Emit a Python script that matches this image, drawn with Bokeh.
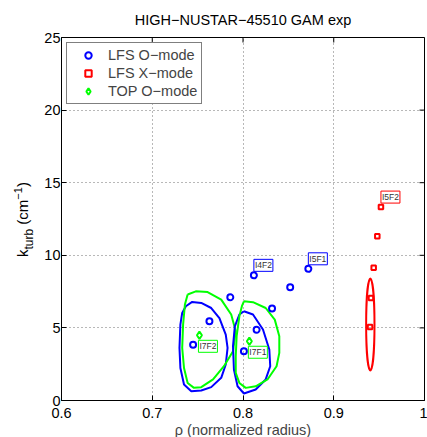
import math
from bokeh.plotting import figure
from bokeh.models import FixedTicker, Legend, LegendItem, Range1d, ColumnDataSource, Div
from bokeh.layouts import row
from bokeh.embed import file_html
from bokeh.resources import INLINE
from bokeh.core.properties import value

# ---------------- data ----------------
title_text = "HIGH\u2212NUSTAR\u221245510 GAM exp"
x_label = "\u03c1 (normalized radius)"
x_ticks = [0.6, 0.7, 0.8, 0.9, 1.0]
y_ticks = [0, 5, 10, 15, 20, 25]

lfs_o_rho = [0.745, 0.763, 0.786, 0.801, 0.815, 0.832, 0.812, 0.852, 0.872]
lfs_o_k = [3.84, 5.46, 7.11, 3.39, 4.87, 6.34, 8.62, 7.80, 9.07]

lfs_x_rho = [0.940, 0.941, 0.944, 0.948, 0.952]
lfs_x_k = [5.07, 7.06, 9.15, 11.31, 13.32]

top_o_rho = [0.752, 0.807]
top_o_k = [4.49, 4.08]

# uncertainty contours
blue_c1_rho = [0.737, 0.744, 0.754, 0.765, 0.774, 0.781, 0.783, 0.781, 0.776, 0.765, 0.754, 0.743, 0.735, 0.731, 0.730, 0.731, 0.733]
blue_c1_k = [6.49, 6.79, 6.72, 6.37, 5.68, 4.54, 3.62, 2.48, 1.56, 0.92, 0.69, 0.64, 1.10, 2.24, 3.62, 5.23, 6.03]
green_c1_rho = [0.739, 0.748, 0.761, 0.776, 0.787, 0.792, 0.789, 0.779, 0.767, 0.754, 0.746, 0.739, 0.735, 0.733, 0.734, 0.736]
green_c1_k = [7.30, 7.52, 7.47, 6.95, 5.92, 4.77, 3.39, 2.36, 1.45, 0.92, 0.87, 1.21, 2.24, 3.62, 5.23, 6.61]
blue_c2_rho = [0.801, 0.811, 0.822, 0.829, 0.830, 0.825, 0.814, 0.801, 0.794, 0.790, 0.789, 0.791, 0.796]
blue_c2_k = [6.15, 5.92, 4.89, 3.51, 2.36, 1.45, 0.76, 0.48, 0.98, 2.13, 3.74, 5.11, 5.92]
green_c2_rho = [0.801, 0.811, 0.825, 0.835, 0.840, 0.840, 0.837, 0.827, 0.814, 0.803, 0.796, 0.792, 0.792, 0.793, 0.796, 0.799]
green_c2_k = [6.83, 6.77, 6.37, 5.57, 4.43, 3.28, 2.36, 1.45, 0.98, 0.87, 1.21, 1.90, 3.05, 4.43, 5.80, 6.54]
red_ell_rho = [0.9403]
red_ell_k = [5.23]
red_ell_w = [0.0092]
red_ell_h = [6.33]

# point tags
tag_above_text = ["I4F2", "I5F1", "I5F2"]
tag_above_rho = [lfs_o_rho[6], lfs_o_rho[8], lfs_x_rho[4]]
tag_above_k = [lfs_o_k[6], lfs_o_k[8], lfs_x_k[4]]
tag_above_color = ["#0000ff", "#0000ff", "#ff0000"]
tag_below_text = ["I7F2", "I7F1"]
tag_below_rho = top_o_rho
tag_below_k = top_o_k
tag_below_color = ["#00ff00", "#00ff00"]

# ---------------- figure ----------------
FONT = "Liberation Sans"
DIV_W = 34
FW, FH = 363, 363
BL, BR, BT, BB = 61 - DIV_W, 3, 36, 38
TOTAL_H = BT + FH + BB

p = figure(frame_width=FW, frame_height=FH, min_border_left=BL, min_border_right=BR,
           min_border_top=BT, min_border_bottom=BB,
           x_range=Range1d(0.6, 1.0), y_range=Range1d(0, 25),
           output_backend="svg", toolbar_location=None, tools="")
p.background_fill_color = "white"
p.border_fill_color = "white"
p.outline_line_color = "black"
p.outline_line_width = 1
p.outline_line_alpha = 1

p.title.text = title_text
p.title.align = "center"
p.title.text_font = FONT
p.title.text_font_size = "14.5px"
p.title.text_font_style = "normal"
p.title.text_color = "black"
p.title.standoff = 19

xa = p.below[0]
ya = p.left[0]
for ax in (xa, ya):
    ax.major_label_text_font = FONT
    ax.major_label_text_font_size = "14.5px"
    ax.major_label_text_color = "black"
    ax.axis_line_color = "black"
    ax.major_tick_in = 5
    ax.major_tick_out = 0
    ax.minor_tick_in = 0
    ax.minor_tick_out = 0
    ax.major_tick_line_color = "black"
xa.ticker = FixedTicker(ticks=x_ticks)
ya.ticker = FixedTicker(ticks=y_ticks)
xa.major_label_overrides = {1: "1"}
xa.major_label_standoff = 7
ya.major_label_standoff = 1
xa.axis_label = x_label
xa.axis_label_text_font = FONT
xa.axis_label_text_font_size = "14.5px"
xa.axis_label_text_font_style = "normal"
xa.axis_label_standoff = 1

for g in (p.xgrid[0], p.ygrid[0]):
    g.grid_line_color = "#707070"
    g.grid_line_dash = "1 3"
    g.grid_line_width = 1
p.xgrid[0].ticker = FixedTicker(ticks=x_ticks)
p.ygrid[0].ticker = FixedTicker(ticks=y_ticks)

# mirrored inward ticks on the top and right edges of the box
p.ray(x=x_ticks, y=[25] * len(x_ticks), length=5, length_units="screen",
      angle=-math.pi / 2, line_color="black", line_width=1)
p.ray(x=[1.0] * len(y_ticks), y=y_ticks, length=5, length_units="screen",
      angle=math.pi, line_color="black", line_width=1)

# contours
def closed(a):
    return list(a) + [a[0]]

p.line(closed(blue_c1_rho), closed(blue_c1_k), line_color="#0000ff", line_width=2)
p.line(closed(green_c1_rho), closed(green_c1_k), line_color="#00ff00", line_width=2)
p.line(closed(blue_c2_rho), closed(blue_c2_k), line_color="#0000ff", line_width=2)
p.line(closed(green_c2_rho), closed(green_c2_k), line_color="#00ff00", line_width=2)
p.ellipse(x=red_ell_rho, y=red_ell_k, width=red_ell_w, height=red_ell_h,
          fill_color=None, line_color="#ff0000", line_width=2)

r_o = p.scatter(lfs_o_rho, lfs_o_k, marker="circle", size=6, fill_color=None,
                line_color="#0000ff", line_width=2)
r_x = p.scatter(lfs_x_rho, lfs_x_k, marker="square", size=4.5, fill_color=None,
                line_color="#ff0000", line_width=2)
r_t = p.scatter(top_o_rho, top_o_k, marker="diamond", size=7.5, fill_color=None,
                line_color="#00ff00", line_width=2)

# tags
src_a = ColumnDataSource(dict(x=tag_above_rho, y=tag_above_k, t=tag_above_text, c=tag_above_color))
p.text(x="x", y="y", text="t", source=src_a, x_offset=0, y_offset=-4,
       text_align="left", text_baseline="bottom", text_font=value(FONT),
       text_font_size="8.5px", text_color="#333333",
       background_fill_color="white", border_line_color="c", border_line_width=1, padding=1)
src_b = ColumnDataSource(dict(x=tag_below_rho, y=tag_below_k, t=tag_below_text, c=tag_below_color))
p.text(x="x", y="y", text="t", source=src_b, x_offset=-1, y_offset=5,
       text_align="left", text_baseline="top", text_font=value(FONT),
       text_font_size="8.5px", text_color="#333333",
       background_fill_color="white", border_line_color="c", border_line_width=1, padding=1)

# legend
legend = Legend(items=[LegendItem(label="LFS O\u2212mode", renderers=[r_o]),
                       LegendItem(label="LFS X\u2212mode", renderers=[r_x]),
                       LegendItem(label="TOP O\u2212mode", renderers=[r_t])],
                location="top_left")
legend.margin = 5
legend.padding = 4
legend.spacing = 2
legend.glyph_width = 34
legend.glyph_height = 16
legend.label_height = 16
legend.label_standoff = 3
legend.label_text_font = FONT
legend.label_text_font_size = "14.5px"
legend.border_line_color = "black"
legend.border_line_width = 1
legend.background_fill_alpha = 1
p.add_layout(legend)

# y axis label  k_turb (cm^-1), rotated html text
ylab_html = (
    f'<div style="position:relative;width:{DIV_W}px;height:{TOTAL_H}px;">'
    '<div style="position:absolute;left:15px;top:257px;transform:rotate(-90deg);'
    "transform-origin:0 0;white-space:nowrap;font-family:'Liberation Sans';"
    'font-size:15px;line-height:15px;color:black;">'
    'k<span style="font-size:12px;position:relative;top:5px;">turb</span>'
    ' (cm<span style="font-size:11px;position:relative;top:-6px;">\u22121</span>)'
    '</div></div>'
)
ylab = Div(text=ylab_html, width=DIV_W, height=TOTAL_H, margin=0)

layout = row(ylab, p, spacing=0)
open("out.html", "w").write(file_html(layout, INLINE))
